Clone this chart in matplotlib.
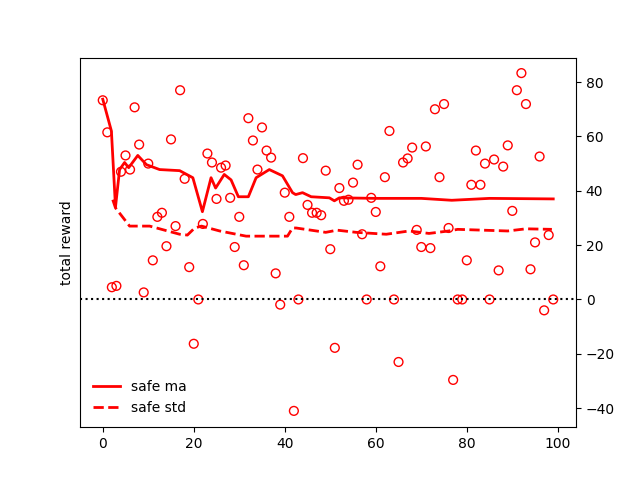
import numpy as np
import matplotlib
matplotlib.use("Agg")
import matplotlib.pyplot as plt

# rewards per episode
rewards = [73.3, 61.5, 4.5, 5.0, 47.0, 53.0, 47.8, 70.7, 57.0, 2.6,
           50.0, 14.4, 30.4, 31.9, 19.6, 58.9, 27.0, 77.0, 44.4, 11.9,
           -16.3, 0.0, 27.8, 53.7, 50.4, 37.0, 48.5, 49.3, 37.4, 19.3,
           30.4, 12.6, 66.7, 58.5, 47.8, 63.3, 54.8, 52.2, 9.6, -1.9,
           39.3, 30.4, -41.0, 0.0, 52.0, 34.8, 31.9, 31.9, 31.0, 47.4,
           18.5, -17.8, 41.0, 36.3, 36.7, 43.0, 49.6, 24.0, 0.0, 37.4,
           32.2, 12.2, 45.0, 62.0, 0.0, -23.0, 50.4, 51.9, 55.9, 25.6,
           19.3, 56.3, 18.9, 70.0, 45.0, 71.9, 26.3, -29.6, 0.0, 0.0,
           14.4, 42.2, 54.8, 42.2, 50.0, 0.0, 51.5, 10.7, 48.9, 56.7,
           32.6, 77.0, 83.3, 71.9, 11.1, 21.0, 52.6, -4.0, 23.7, 0.0]
episodes = np.arange(len(rewards))

# moving average curve
ma_x = [0, 1.9, 2.8, 3.7, 4.8, 5.7, 7.7, 9.6, 12.5, 16.9, 19.8, 21.9, 23.8,
        24.8, 26.7, 28.2, 29.8, 32, 33.7, 36.6, 39.5, 41.7, 42.4, 43.9, 45.8,
        49.8, 50.9, 52, 60, 70, 76.7, 85, 99]
ma_y = [73.7, 62, 34, 47.8, 50.4, 48.5, 53, 49.6, 47.8, 47.4, 44.8, 32.3, 44.8,
        41, 46, 44, 37.8, 37.8, 44.8, 47.8, 45.5, 39.3, 38.6, 39.3, 37.8,
        37.4, 36.3, 37.4, 37.2, 37.2, 36.5, 37.2, 37.0]

# std curve
std_x = [2.2, 2.8, 5.9, 7.7, 10.3, 16.9, 18.6, 20.2, 21.7, 25.7, 31.5, 37.3,
         40.6, 41.7, 42.5, 49, 51.5, 55.7, 62.3, 67.3, 71.7, 76, 78, 89, 93, 98.7]
std_y = [36.7, 33.7, 27, 27, 27, 24, 23.7, 26.3, 27, 25.2, 23.3, 23.3,
         23.3, 26.3, 26.3, 24.7, 25.5, 24.7, 24, 25.2, 24.3, 25.2, 25.8, 25.2, 26, 25.8]

fig, ax = plt.subplots(figsize=(6.4, 4.8), dpi=100)
ax.scatter(episodes, rewards, facecolors="none", edgecolors="red", s=40)
ax.plot(ma_x, ma_y, color="red", lw=2, label="safe ma")
ax.plot(std_x, std_y, color="red", lw=2, ls="--", label="safe std")
ax.axhline(0, color="black", ls=":")

ax.set_xlim(-5, 104)
ax.set_ylim(-47, 89)
ax.yaxis.tick_right()
ax.set_ylabel("total reward")
ax.legend(loc="lower left", frameon=False)

plt.savefig("out.png", dpi=100)
